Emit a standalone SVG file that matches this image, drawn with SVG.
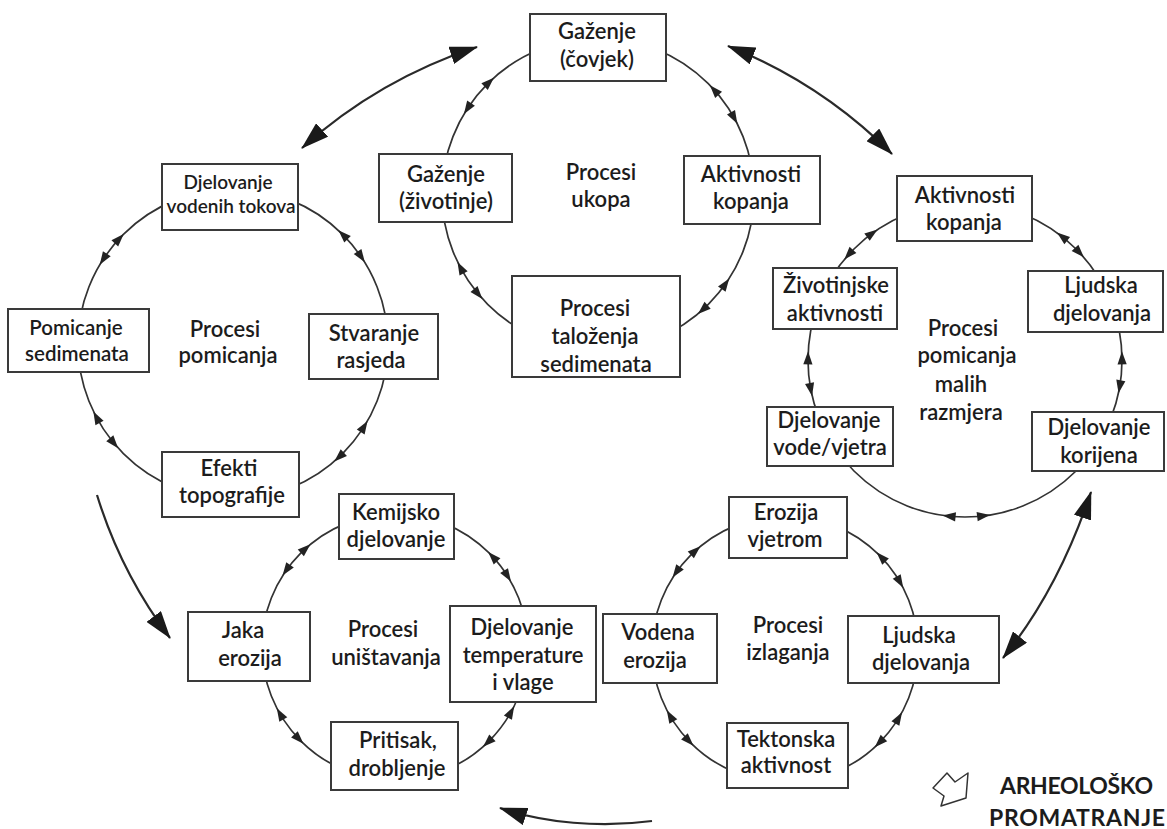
<svg xmlns="http://www.w3.org/2000/svg" xmlns:xlink="http://www.w3.org/1999/xlink" width="1167" height="829" viewBox="0 0 1167 829">
<style>
.box{fill:#fff;stroke:#3a3a3a;stroke-width:2}
.t{font-family:Lato,"Liberation Sans",sans-serif;font-size:22px;font-weight:600;fill:#1c1c1c;text-anchor:middle}
.s19{font-size:19px}
.s20{font-size:20.5px}
.cyc{fill:none;stroke:#333;stroke-width:1.7}
.big{fill:none;stroke:#2a2a2a;stroke-width:2.2}
.ah{fill:#222}
.ttl{font-family:Lato,"Liberation Sans",sans-serif;font-size:23px;font-weight:bold;fill:#1c1c1c}
</style>
<defs>
<path id="ah" class="ah" d="M6,0 L-7,-4.6 L-7,4.6 Z"/>
<marker id="bigHead" markerUnits="userSpaceOnUse" markerWidth="28" markerHeight="18" viewBox="0 0 28 18" refX="27" refY="9" orient="auto-start-reverse">
<path d="M0,0 L28,9 L0,18 Z" fill="#1a1a1a"/>
</marker>
</defs>
<rect width="1167" height="829" fill="#fff"/>
<g id="connectors">
<circle class="cyc" cx="598" cy="194" r="156"/>
<circle class="cyc" cx="233" cy="344" r="155"/>
<circle class="cyc" cx="965" cy="360" r="157"/>
<circle class="cyc" cx="395" cy="647" r="133"/>
<circle class="cyc" cx="785" cy="649" r="133"/>
<use href="#ah" transform="translate(467.2,109.0) rotate(123)"/>
<use href="#ah" transform="translate(489.6,81.8) rotate(316)"/>
<use href="#ah" transform="translate(713.9,89.6) rotate(228)"/>
<use href="#ah" transform="translate(734.4,118.4) rotate(61)"/>
<use href="#ah" transform="translate(478.5,294.3) rotate(50)"/>
<use href="#ah" transform="translate(460.3,267.2) rotate(242)"/>
<use href="#ah" transform="translate(725.8,283.5) rotate(-55)"/>
<use href="#ah" transform="translate(702.4,309.9) rotate(138)"/>
<use href="#ah" transform="translate(103.0,259.6) rotate(123)"/>
<use href="#ah" transform="translate(119.6,238.3) rotate(313)"/>
<use href="#ah" transform="translate(342.6,234.4) rotate(225)"/>
<use href="#ah" transform="translate(361.5,257.3) rotate(56)"/>
<use href="#ah" transform="translate(114.3,443.6) rotate(50)"/>
<use href="#ah" transform="translate(96.2,416.8) rotate(242)"/>
<use href="#ah" transform="translate(364.4,426.1) rotate(-58)"/>
<use href="#ah" transform="translate(338.7,457.4) rotate(137)"/>
<use href="#ah" transform="translate(848.3,255.0) rotate(132)"/>
<use href="#ah" transform="translate(872.7,233.0) rotate(324)"/>
<use href="#ah" transform="translate(1061.7,236.3) rotate(218)"/>
<use href="#ah" transform="translate(1079.8,252.9) rotate(47)"/>
<use href="#ah" transform="translate(810.9,390.0) rotate(79)"/>
<use href="#ah" transform="translate(808.0,357.3) rotate(271)"/>
<use href="#ah" transform="translate(1122.0,357.3) rotate(269)"/>
<use href="#ah" transform="translate(1119.6,387.3) rotate(100)"/>
<use href="#ah" transform="translate(984.1,515.8) rotate(-7)"/>
<use href="#ah" transform="translate(948.6,516.1) rotate(186)"/>
<use href="#ah" transform="translate(286.0,570.7) rotate(125)"/>
<use href="#ah" transform="translate(306.0,548.2) rotate(318)"/>
<use href="#ah" transform="translate(492.3,556.3) rotate(227)"/>
<use href="#ah" transform="translate(507.8,576.5) rotate(58)"/>
<use href="#ah" transform="translate(299.3,739.4) rotate(46)"/>
<use href="#ah" transform="translate(279.8,713.5) rotate(240)"/>
<use href="#ah" transform="translate(511.3,711.5) rotate(-61)"/>
<use href="#ah" transform="translate(487.4,742.7) rotate(136)"/>
<use href="#ah" transform="translate(676.0,572.7) rotate(125)"/>
<use href="#ah" transform="translate(696.0,550.2) rotate(318)"/>
<use href="#ah" transform="translate(880.7,556.6) rotate(226)"/>
<use href="#ah" transform="translate(900.2,582.5) rotate(60)"/>
<use href="#ah" transform="translate(689.3,741.4) rotate(46)"/>
<use href="#ah" transform="translate(669.8,715.5) rotate(240)"/>
<use href="#ah" transform="translate(899.0,717.5) rotate(-59)"/>
<use href="#ah" transform="translate(879.0,743.0) rotate(135)"/>
<path class="big" d="M302,148 Q379,79 477,47" marker-start="url(#bigHead)" marker-end="url(#bigHead)"/>
<path class="big" d="M728,46 Q821,83 892,154" marker-start="url(#bigHead)" marker-end="url(#bigHead)"/>
<path class="big" d="M97,495 Q121,573 170,638" marker-end="url(#bigHead)"/>
<path class="big" d="M652,821 C600,828 545,823 500,808" marker-end="url(#bigHead)"/>
<path class="big" d="M1091,492 C1075,540 1050,600 1003,658" marker-start="url(#bigHead)" marker-end="url(#bigHead)"/>
</g>
<g id="n-gazenje-covjek"><rect class="box" x="530" y="14" width="136" height="67"/><text class="t"><tspan x="597" y="39">Gaženje</tspan><tspan x="597" y="67">(čovjek)</tspan></text></g>
<g id="n-gazenje-zivotinje"><rect class="box" x="379" y="154" width="133" height="68"/><text class="t"><tspan x="446" y="182">Gaženje</tspan><tspan x="446" y="209">(životinje)</tspan></text></g>
<g id="n-aktivnosti-kopanja-1"><rect class="box" x="684" y="156" width="136" height="68"/><text class="t"><tspan x="751" y="182">Aktivnosti</tspan><tspan x="751" y="209">kopanja</tspan></text></g>
<g id="n-procesi-talozenja"><rect class="box" x="512" y="276" width="168" height="101"/><text class="t"><tspan x="595" y="316">Procesi</tspan><tspan x="595" y="344">taloženja</tspan><tspan x="596" y="372">sedimenata</tspan></text></g>
<g id="lbl-procesi-ukopa"><text class="t"><tspan x="601" y="180">Procesi</tspan><tspan x="601" y="207">ukopa</tspan></text></g>
<g id="n-djelovanje-vodenih"><rect class="box" x="162" y="164" width="136" height="66"/><text class="t s19"><tspan x="228" y="189">Djelovanje</tspan><tspan x="231" y="213">vodenih tokova</tspan></text></g>
<g id="n-pomicanje-sedimenata"><rect class="box" x="8" y="309" width="141" height="63"/><text class="t s20"><tspan x="76" y="335">Pomicanje</tspan><tspan x="77" y="361">sedimenata</tspan></text></g>
<g id="n-stvaranje-rasjeda"><rect class="box" x="309" y="314" width="129" height="65"/><text class="t"><tspan x="374" y="341">Stvaranje</tspan><tspan x="371" y="368">rasjeda</tspan></text></g>
<g id="n-efekti-topografije"><rect class="box" x="162" y="452" width="137" height="65"/><text class="t"><tspan x="229" y="476">Efekti</tspan><tspan x="232" y="503">topografije</tspan></text></g>
<g id="lbl-procesi-pomicanja"><text class="t"><tspan x="225" y="337">Procesi</tspan><tspan x="228" y="363">pomicanja</tspan></text></g>
<g id="n-aktivnosti-kopanja-2"><rect class="box" x="897" y="176" width="135" height="65"/><text class="t"><tspan x="965" y="203">Aktivnosti</tspan><tspan x="964" y="230">kopanja</tspan></text></g>
<g id="n-zivotinjske"><rect class="box" x="773" y="268" width="124" height="61"/><text class="t"><tspan x="836" y="293">Životinjske</tspan><tspan x="835" y="321">aktivnosti</tspan></text></g>
<g id="n-ljudska-djelovanja-1"><rect class="box" x="1028" y="271" width="135" height="61"/><text class="t"><tspan x="1101" y="293">Ljudska</tspan><tspan x="1102" y="321">djelovanja</tspan></text></g>
<g id="n-djelovanje-vode"><rect class="box" x="767" y="407" width="126" height="59"/><text class="t"><tspan x="829" y="428">Djelovanje</tspan><tspan x="830" y="455">vode/vjetra</tspan></text></g>
<g id="n-djelovanje-korijena"><rect class="box" x="1032" y="412" width="132" height="59"/><text class="t"><tspan x="1099" y="435">Djelovanje</tspan><tspan x="1099" y="463">korijena</tspan></text></g>
<g id="lbl-procesi-malih"><text class="t"><tspan x="963" y="336">Procesi</tspan><tspan x="967" y="363">pomicanja</tspan><tspan x="961" y="392">malih</tspan><tspan x="961" y="420">razmjera</tspan></text></g>
<g id="n-kemijsko"><rect class="box" x="339" y="494" width="115" height="65"/><text class="t"><tspan x="396" y="520">Kemijsko</tspan><tspan x="396" y="547">djelovanje</tspan></text></g>
<g id="n-jaka-erozija"><rect class="box" x="188" y="612" width="122" height="69"/><text class="t"><tspan x="243" y="638">Jaka</tspan><tspan x="250" y="666">erozija</tspan></text></g>
<g id="n-temperatura"><rect class="box" x="450" y="606" width="146" height="96"/><text class="t"><tspan x="522" y="635">Djelovanje</tspan><tspan x="523" y="663">temperature</tspan><tspan x="523" y="690">i vlage</tspan></text></g>
<g id="n-pritisak"><rect class="box" x="331" y="722" width="127" height="68"/><text class="t"><tspan x="398" y="748">Pritisak,</tspan><tspan x="397" y="776">drobljenje</tspan></text></g>
<g id="lbl-procesi-unistavanja"><text class="t"><tspan x="383" y="637">Procesi</tspan><tspan x="386" y="665">uništavanja</tspan></text></g>
<g id="n-erozija-vjetrom"><rect class="box" x="729" y="497" width="118" height="61"/><text class="t"><tspan x="786" y="520">Erozija</tspan><tspan x="785" y="547">vjetrom</tspan></text></g>
<g id="n-vodena-erozija"><rect class="box" x="603" y="614" width="114" height="69"/><text class="t"><tspan x="658" y="640">Vodena</tspan><tspan x="655" y="668">erozija</tspan></text></g>
<g id="n-ljudska-djelovanja-2"><rect class="box" x="848" y="616" width="151" height="67"/><text class="t"><tspan x="919" y="643">Ljudska</tspan><tspan x="921" y="670">djelovanja</tspan></text></g>
<g id="n-tektonska"><rect class="box" x="727" y="723" width="121" height="65"/><text class="t"><tspan x="786" y="747">Tektonska</tspan><tspan x="786" y="773">aktivnost</tspan></text></g>
<g id="lbl-procesi-izlaganja"><text class="t"><tspan x="788" y="633">Procesi</tspan><tspan x="788" y="660">izlaganja</tspan></text></g>
<g id="legend">
<path d="M947,773 L955,782 L968,773 L966,798 L941,806 L944,796 L933,788 Z" fill="none" stroke="#333" stroke-width="1.5" stroke-linejoin="round"/>
<text class="ttl" x="1000" y="794" textLength="153">ARHEOLOŠKO</text>
<text class="ttl" x="989" y="826" textLength="176">PROMATRANJE</text>
</g>
</svg>
